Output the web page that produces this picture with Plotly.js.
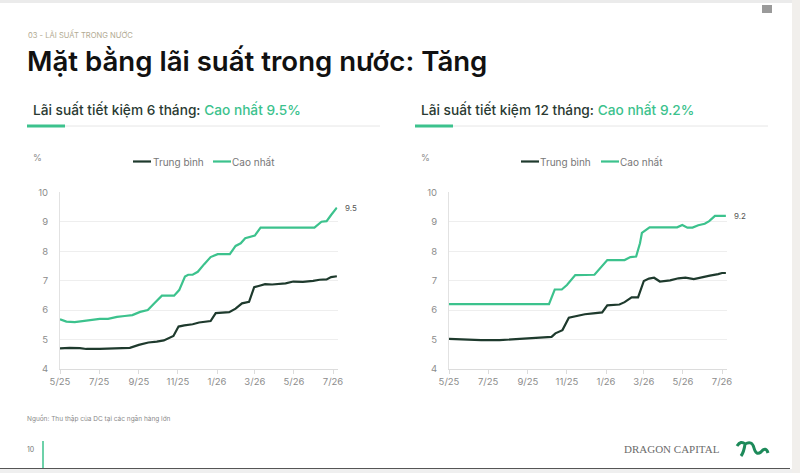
<!DOCTYPE html>
<html>
<head>
<meta charset="utf-8">
<script src="https://cdn.plot.ly/plotly-3.0.1.min.js"></script>
<style>
html,body{margin:0;padding:0;background:#ffffff;}
#chart{width:800px;height:473px;}
</style>
</head>
<body>
<div id="chart"></div>
<script>
// ---------- DATA ----------
var seriesNames = ['Trung bình', 'Cao nhất'];
var tickDates = ['2025-05-01','2025-07-01','2025-09-01','2025-11-01','2026-01-01','2026-03-01','2026-05-01','2026-07-01'];
var tickLabels = ['5/25','7/25','9/25','11/25','1/26','3/26','5/26','7/26'];

// 6-month savings rate
var avg6Dates = ['2025-05-01','2025-05-16','2025-06-01','2025-06-11','2025-07-02','2025-07-23','2025-08-02','2025-08-18','2025-09-01','2025-09-16','2025-09-29','2025-10-10','2025-10-25','2025-11-02','2025-11-11','2025-11-24','2025-12-04','2025-12-22','2025-12-30','2026-01-20','2026-01-30','2026-02-09','2026-02-20','2026-02-28','2026-03-07','2026-03-17','2026-03-28','2026-04-07','2026-04-18','2026-04-30','2026-05-15','2026-05-31','2026-06-10','2026-06-21','2026-06-28','2026-07-07'];
var avg6 = [4.70,4.72,4.71,4.68,4.68,4.69,4.71,4.72,4.82,4.90,4.93,4.97,5.12,5.44,5.48,5.52,5.58,5.63,5.90,5.93,6.05,6.23,6.28,6.78,6.82,6.88,6.87,6.89,6.91,6.97,6.96,6.99,7.03,7.04,7.12,7.15];
var max6Dates = ['2025-05-01','2025-05-11','2025-05-24','2025-06-01','2025-06-12','2025-06-20','2025-07-02','2025-07-15','2025-07-29','2025-08-10','2025-08-22','2025-09-03','2025-09-15','2025-09-26','2025-10-07','2025-10-26','2025-11-03','2025-11-12','2025-11-17','2025-11-24','2025-12-02','2025-12-12','2025-12-22','2026-01-02','2026-01-21','2026-01-30','2026-02-07','2026-02-14','2026-02-22','2026-03-01','2026-03-10','2026-06-02','2026-06-13','2026-06-21','2026-06-28','2026-07-07'];
var max6 = [5.69,5.61,5.59,5.61,5.66,5.68,5.70,5.70,5.77,5.80,5.83,5.94,6.00,6.25,6.49,6.49,6.68,7.14,7.20,7.20,7.30,7.56,7.80,7.90,7.90,8.18,8.27,8.44,8.49,8.53,8.80,8.80,9.00,9.02,9.23,9.48];

// 12-month savings rate
var avg12Dates = ['2025-05-01','2025-05-28','2025-06-20','2025-07-19','2025-08-04','2025-08-19','2025-09-01','2025-09-18','2025-10-08','2025-10-14','2025-10-25','2025-11-04','2025-11-16','2025-11-29','2025-12-12','2025-12-26','2026-01-03','2026-01-22','2026-01-30','2026-02-10','2026-02-20','2026-03-01','2026-03-09','2026-03-17','2026-03-26','2026-04-11','2026-04-24','2026-05-05','2026-05-18','2026-05-30','2026-06-12','2026-06-25','2026-07-01','2026-07-07'];
var avg12 = [5.02,4.99,4.98,4.98,5.00,5.01,5.04,5.07,5.09,5.21,5.32,5.74,5.81,5.86,5.89,5.92,6.16,6.19,6.27,6.43,6.43,6.99,7.07,7.10,6.97,7.01,7.08,7.10,7.05,7.12,7.17,7.22,7.26,7.26];
var max12Dates = ['2025-05-01','2025-10-04','2025-10-13','2025-10-24','2025-11-01','2025-11-14','2025-12-14','2025-12-26','2026-01-03','2026-01-30','2026-02-08','2026-02-17','2026-02-23','2026-02-26','2026-03-10','2026-04-22','2026-04-30','2026-05-08','2026-05-16','2026-05-25','2026-06-04','2026-06-11','2026-06-20','2026-07-07'];
var max12 = [6.20,6.20,6.70,6.70,6.85,7.19,7.20,7.50,7.70,7.70,7.80,7.82,8.27,8.62,8.81,8.81,8.89,8.80,8.80,8.88,8.93,9.02,9.20,9.20];

// ---------- STYLE ----------
var DARK = '#1e3a2d';
var GREEN = '#3cc28d';
var FONT = 'Inter, "Noto Sans", sans-serif';
var W = 800, H = 473;
function px(x){ return x / W; }
function py(y){ return 1 - y / H; }

function line(x, y, color, xa, ya, name){
  return {x: x, y: y, type: 'scatter', mode: 'lines', name: name, xaxis: xa, yaxis: ya,
          line: {color: color, width: 2.2, shape: 'linear'}, hoverinfo: 'x+y', showlegend: false};
}

var traces = [
  line(avg6Dates, avg6, DARK, 'x', 'y', seriesNames[0]),
  line(max6Dates, max6, GREEN, 'x', 'y', seriesNames[1]),
  line(avg12Dates, avg12, DARK, 'x2', 'y2', seriesNames[0]),
  line(max12Dates, max12, GREEN, 'x2', 'y2', seriesNames[1])
];

function xax(domain){
  return {type: 'date', domain: domain, range: ['2025-05-01', '2026-07-08'],
          tickmode: 'array', tickvals: tickDates, ticktext: tickLabels,
          showgrid: false, zeroline: false, showline: true, linecolor: '#dcdcdc', linewidth: 1,
          ticks: 'outside', ticklen: 4, tickcolor: '#dcdcdc',
          tickfont: {family: FONT, size: 9.5, color: '#8c8c8c'}, fixedrange: true};
}
function yax(anchor){
  return {domain: [py(369), py(192.3)], range: [4, 10], dtick: 1, anchor: anchor,
          showgrid: true, gridcolor: '#eeeeee', gridwidth: 1, zeroline: false,
          showline: true, linecolor: '#e2e2e2', linewidth: 1, ticks: '',
          ticklabelstandoff: 9,
          tickfont: {family: FONT, size: 9.5, color: '#8c8c8c'}, fixedrange: true};
}

var xL = xax([px(60), px(337.5)]); xL.anchor = 'y';
var xR = xax([px(449), px(726.5)]); xR.anchor = 'y2';

function ann(x, y, text, size, color, opts){
  var a = {xref: 'paper', yref: 'paper', x: px(x), y: py(y), text: text, showarrow: false,
           xanchor: 'left', yanchor: 'middle', font: {family: FONT, size: size, color: color}};
  if (opts) { for (var k in opts) { if (k === 'font') { for (var f in opts.font) a.font[f] = opts.font[f]; } else a[k] = opts[k]; } }
  return a;
}

function lastLabel(dates, vals, xa, ya){
  var i = vals.length - 1;
  return {xref: xa, yref: ya, x: dates[i], y: vals[i], text: vals[i].toFixed(1), showarrow: false,
          xanchor: 'left', yanchor: 'middle', xshift: 6,
          font: {family: FONT, size: 8, color: '#555555'}};
}

var annotations = [
  ann(26, 34, '03 - LÃI SUẤT TRONG NƯỚC', 7.6, '#b2aa92'),
  ann(25, 61, 'Mặt bằng lãi suất trong nước: Tăng', 27.6, '#111111', {font: {weight: 600}}),
  ann(31, 110, 'Lãi suất tiết kiệm 6 tháng: <span style="color:' + GREEN + '">Cao nhất 9.5%</span>', 13.7, '#2a3a32', {font: {weight: 500}}),
  ann(419, 110, 'Lãi suất tiết kiệm 12 tháng: <span style="color:' + GREEN + '">Cao nhất 9.2%</span>', 13.7, '#2a3a32', {font: {weight: 500}}),
  ann(31, 157, '%', 9, '#8a8a8a'),
  ann(419, 157, '%', 9, '#8a8a8a'),
  ann(151, 161.5, seriesNames[0], 10, '#777777'),
  ann(230, 161.5, seriesNames[1], 10, '#777777'),
  ann(538, 161.5, seriesNames[0], 10, '#777777'),
  ann(618, 161.5, seriesNames[1], 10, '#777777'),
  ann(25, 418, 'Nguồn: Thu thập của DC tại các ngân hàng lớn', 6.5, '#8a8a8a'),
  ann(25, 449, '10', 7, '#777777'),
  ann(622, 449, 'DRAGON CAPITAL', 11, '#6b6b6b', {font: {family: '"Liberation Serif", "DejaVu Serif", serif'}}),
  lastLabel(max6Dates, max6, 'x', 'y'),
  lastLabel(max12Dates, max12, 'x2', 'y2')
];

function pline(x0, y0, x1, y1, color, w){
  return {type: 'line', xref: 'paper', yref: 'paper', x0: px(x0), y0: py(y0), x1: px(x1), y1: py(y1),
          line: {color: color, width: w}};
}
function prect(x0, y0, x1, y1, color){
  return {type: 'rect', xref: 'paper', yref: 'paper', x0: px(x0), y0: py(y0), x1: px(x1), y1: py(y1),
          fillcolor: color, line: {width: 0}, layer: 'below'};
}
// decorative logo squiggle (pixel coords converted to paper)
function ppath(cmds, color, w){
  var s = cmds.map(function(c){
    return c[0] + ' ' + c.slice(1).map(function(v, j){ return (j % 2 === 0 ? px(v) : py(v)).toFixed(5); }).join(',');
  }).join(' ');
  return {type: 'path', xref: 'paper', yref: 'paper', path: s, line: {color: color, width: w}};
}

var shapes = [
  // frame
  prect(0, 0, 800, 3, '#ebebeb'),
  prect(792, 0, 800, 473, '#f1efec'),
  prect(0, 469, 792, 473, '#efefef'),
  pline(0, 468.5, 790, 468.5, '#555555', 1.2),
  // top-right icon
  prect(762, 5, 772, 13, '#9a9a9a'),
  // section underlines
  pline(27, 126, 380, 126, '#e6e6e6', 1),
  pline(27, 126, 65, 126, GREEN, 3),
  pline(415, 126, 768, 126, '#e6e6e6', 1),
  pline(415, 126, 453, 126, GREEN, 3),
  // legend symbols
  pline(133, 161.5, 151, 161.5, DARK, 2.2),
  pline(213, 161.5, 231, 161.5, GREEN, 2.2),
  pline(521, 161.5, 539, 161.5, DARK, 2.2),
  pline(601, 161.5, 619, 161.5, GREEN, 2.2),
  // page number divider
  pline(43, 441, 43, 468, GREEN, 1.5),
  // logo
  ppath([['M', 737, 446], ['Q', 741, 440, 745, 444], ['Q', 744, 452, 741, 456], ['M', 745, 444], ['Q', 752, 440, 754, 448], ['Q', 756, 456, 761, 452], ['Q', 766, 446, 768, 453]], '#1d8a5a', 3)
];

var layout = {
  width: W, height: H,
  margin: {l: 0, r: 0, t: 0, b: 0},
  paper_bgcolor: '#ffffff', plot_bgcolor: '#ffffff',
  font: {family: FONT},
  showlegend: false,
  xaxis: xL, yaxis: yax('x'),
  xaxis2: xR, yaxis2: yax('x2'),
  annotations: annotations,
  shapes: shapes
};

Plotly.newPlot('chart', traces, layout, {displayModeBar: false, staticPlot: true});
</script>
</body>
</html>
